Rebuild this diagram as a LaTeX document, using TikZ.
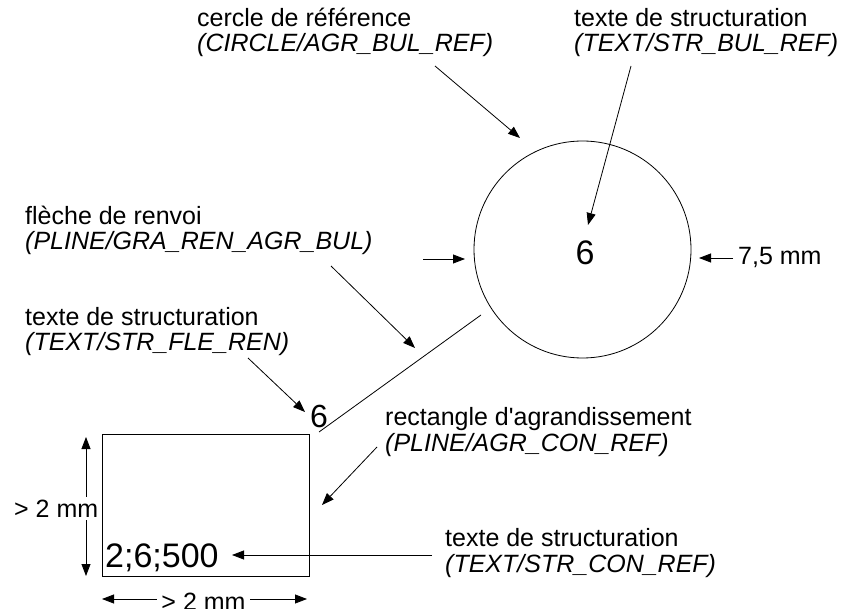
\documentclass[tikz,border=0pt]{standalone}
\usepackage{fontspec}
\setmainfont{Liberation Sans}
\usetikzlibrary{arrows.meta}
\begin{document}
\begin{tikzpicture}[x=1pt,y=-1pt,
  lab/.style={anchor=base west, inner sep=0pt, font=\fontsize{25}{30}\selectfont},
  labi/.style={anchor=base west, inner sep=0pt, font=\fontsize{25}{30}\selectfont\itshape},
  big/.style={inner sep=0pt, font=\fontsize{34}{40}\selectfont},
  dimlab/.style={inner xsep=4pt, inner ysep=3pt, fill=white, font=\fontsize{25}{30}\selectfont},
  arr/.style={-{Triangle[length=12pt,width=9pt]}, line width=0.8pt},
  darr/.style={{Triangle[length=12pt,width=9pt]}-{Triangle[length=12pt,width=9pt]}, line width=0.8pt},
  ln/.style={line width=0.8pt}]
\useasboundingbox (0,0) rectangle (845,609);

% labels
\node[lab]  (c1a) at (197,27) {cercle de référence};
\node[labi] (c1b) at (197,52) {(CIRCLE/AGR\_BUL\_REF)};
\node[lab]  (t1a) at (574,27) {texte de structuration};
\node[labi] (t1b) at (574,52) {(TEXT/STR\_BUL\_REF)};
\node[lab]  (f1a) at (25,225) {flèche de renvoi};
\node[labi] (f1b) at (25,250) {(PLINE/GRA\_REN\_AGR\_BUL)};
\node[lab]  (t2a) at (25,325) {texte de structuration};
\node[labi] (t2b) at (25,350) {(TEXT/STR\_FLE\_REN)};
\node[lab]  (r1a) at (385,425) {rectangle d\textquotesingle agrandissement};
\node[labi] (r1b) at (385,451) {(PLINE/AGR\_CON\_REF)};
\node[lab]  (t3a) at (445,546) {texte de structuration};
\node[labi] (t3b) at (445,572) {(TEXT/STR\_CON\_REF)};
\node[lab]  (d75) at (738,265) {7,5 mm};

% shapes
\node[circle, draw, ln, minimum size=217pt, inner sep=0pt] (circ) at (582.5,249.5) {};
\node[big] (six) at (585,252.5) {6};
\node[inner sep=0pt, font=\fontsize{32}{38}\selectfont] (sixs) at (319,416.5) {6};
\node[draw, ln, minimum width=207pt, minimum height=142pt, inner sep=0pt] (rect) at (205.5,505) {};
\node[big, anchor=base west] (code) at (105,567) {2;6;500};

% connector ends
\coordinate (a1s) at (435,66);   \coordinate (a1e) at (520,138);
\coordinate (a2s) at (631,66);   \coordinate (a2e) at (588,225);
\coordinate (a3s) at (331,266);  \coordinate (a3e) at (415,348);
\coordinate (a4s) at (248,358);  \coordinate (a4e) at (305,412);
\coordinate (a5s) at (423,259);  \coordinate (a5e) at (465,259);
\coordinate (a6s) at (733,258);  \coordinate (a6e) at (699,258);
\coordinate (l1s) at (481,315);  \coordinate (l1e) at (319,432);
\coordinate (a7s) at (377,447);  \coordinate (a7e) at (322,505);
\coordinate (a8s) at (432,555);  \coordinate (a8e) at (232,555);
\coordinate (v1) at (86,437);    \coordinate (v2) at (86,576);
\coordinate (h1) at (102,599);   \coordinate (h2) at (307,599);

\draw[arr] (a1s) -- (a1e);
\draw[arr] (a2s) -- (a2e);
\draw[arr] (a3s) -- (a3e);
\draw[arr] (a4s) -- (a4e);
\draw[arr] (a5s) -- (a5e);
\draw[arr] (a6s) -- (a6e);
\draw[ln]  (l1s) -- (l1e);
\draw[arr] (a7s) -- (a7e);
\draw[arr] (a8s) -- (a8e);
\draw[darr] (v1) -- (v2);
\draw[darr] (h1) -- (h2);

\node[dimlab, anchor=base west, inner xsep=0pt] (vlab) at (14,517) {> 2 mm};
\node[dimlab, anchor=base] (hlab) at (203.5,610) {> 2 mm};
\end{tikzpicture}
\end{document}
